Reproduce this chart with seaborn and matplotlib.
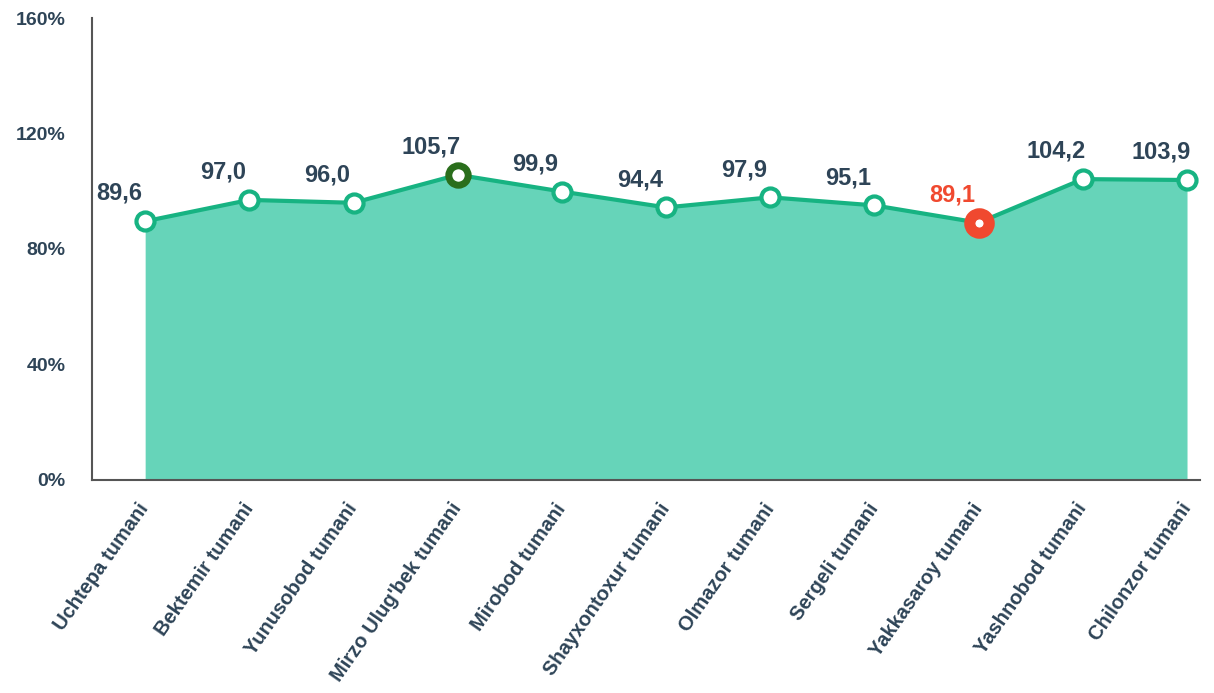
import matplotlib
matplotlib.use("Agg")
import matplotlib.pyplot as plt
import seaborn as sns
import pandas as pd

# data
districts = ["Uchtepa tumani", "Bektemir tumani", "Yunusobod tumani", "Mirzo Ulug'bek tumani",
             "Mirobod tumani", "Shayxontoxur tumani", "Olmazor tumani", "Sergeli tumani",
             "Yakkasaroy tumani", "Yashnobod tumani", "Chilonzor tumani"]
values = [89.6, 97.0, 96.0, 105.7, 99.9, 94.4, 97.9, 95.1, 89.1, 104.2, 103.9]
y_ticks = [0, 40, 80, 120, 160]

df = pd.DataFrame({"district": districts, "value": values})
df["pos"] = range(len(df))

sns.set_style("white")
plt.rcParams["font.family"] = ["Liberation Sans", "DejaVu Sans"]

text_col = "#2e4457"
line_col = "#17b382"
fill_col = "#66d4b9"

fig = plt.figure(figsize=(12.14, 6.93), dpi=100)
ax = fig.add_axes([0.0758, 0.3074, 0.9127, 0.6666])

# filled area + line
ax.fill_between(df["pos"], 0, df["value"], color=fill_col, linewidth=0, zorder=1)
sns.lineplot(data=df, x="pos", y="value", color=line_col, linewidth=3, ax=ax, zorder=2)

# markers: highlight max (green) and min (red)
imax = df["value"].idxmax()
imin = df["value"].idxmin()
normal = df.drop([imax, imin])
ax.plot(normal["pos"], normal["value"], "o", ms=13, mfc="white", mec=line_col, mew=3, zorder=3)
ax.plot(df.loc[imax, "pos"], df.loc[imax, "value"], "o", ms=14, mfc="white", mec="#2a6e1c", mew=5, zorder=4)
ax.plot(df.loc[imin, "pos"], df.loc[imin, "value"], "o", ms=14, mfc="white", mec="#f0492f", mew=8, zorder=4)

# value labels
for _, row in df.iterrows():
    col = "#f0492f" if row.name == imin else text_col
    ax.annotate(f"{row['value']:.1f}".replace(".", ","), (row["pos"], row["value"]),
                xytext=(-19, 20), textcoords="offset points", ha="center", va="center",
                fontsize=17, fontweight="bold", color=col, zorder=5)

ax.set_xlim(-0.51, 10.125)
ax.set_ylim(0, 160)
ax.set_yticks(y_ticks)
ax.set_yticklabels([f"{t}%" for t in y_ticks])
ax.set_xticks(df["pos"])
ax.set_xticklabels(districts, rotation=55, ha="right", va="center", rotation_mode="anchor")
ax.set_xlabel("")
ax.set_ylabel("")

sns.despine(ax=ax)
for s in ["left", "bottom"]:
    ax.spines[s].set_color("#555555")
    ax.spines[s].set_linewidth(1.5)
ax.tick_params(axis="y", length=11, width=2, color="#666666", labelsize=14,
               labelcolor=text_col, pad=8)
ax.tick_params(axis="x", length=8, width=2, color="#888888", labelsize=14.5,
               labelcolor=text_col, pad=10)
for lab in ax.get_xticklabels() + ax.get_yticklabels():
    lab.set_fontweight("bold")

fig.savefig("out.png", dpi=100)
